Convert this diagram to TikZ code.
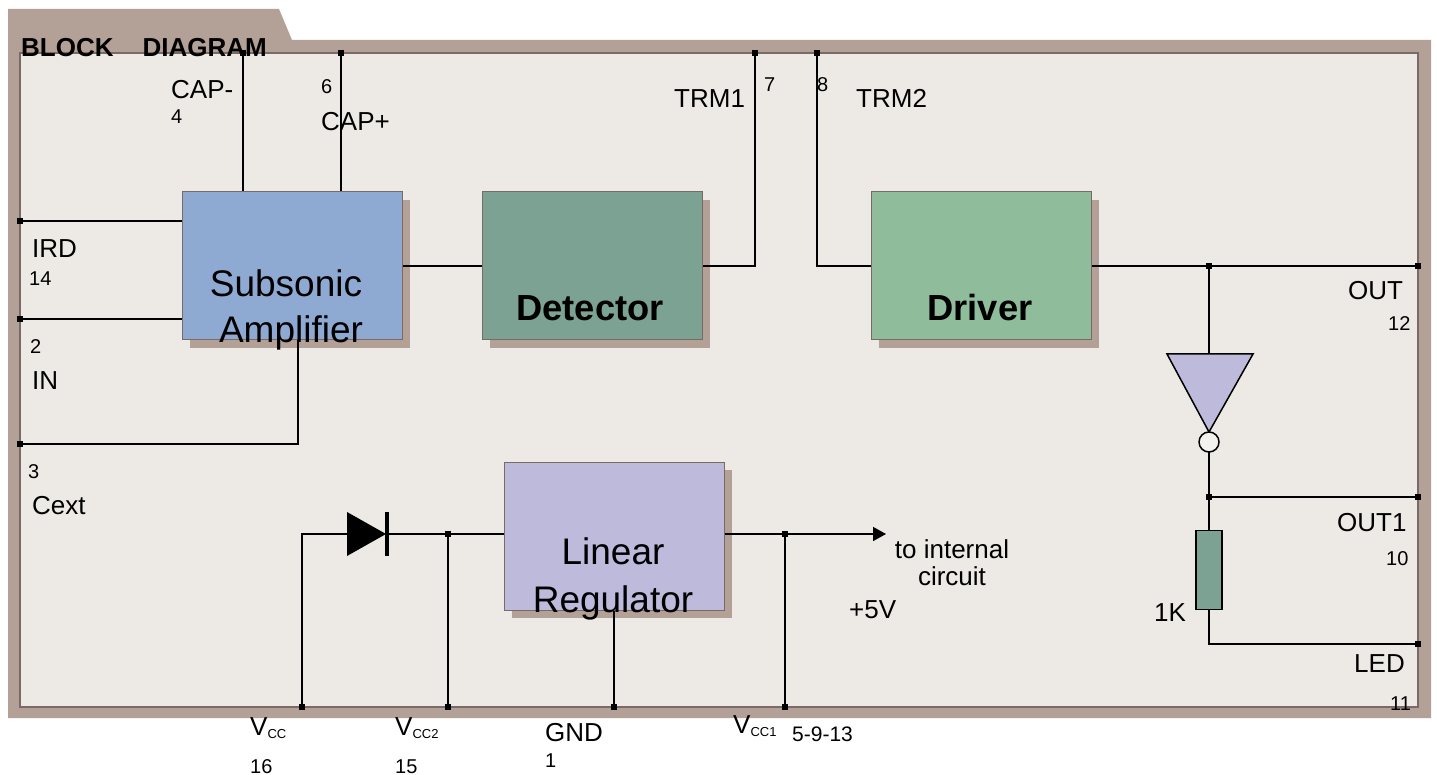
\documentclass[tikz,border=0pt]{standalone}
\usepackage{fontspec}
\setmainfont{Liberation Sans}
\usetikzlibrary{arrows.meta}
\definecolor{paper}{HTML}{EDEAE5}
\definecolor{brownf}{HTML}{B3A097}
\definecolor{edgec}{HTML}{7A6A66}
\definecolor{subc}{HTML}{8EAAD3}
\definecolor{detc}{HTML}{7CA294}
\definecolor{drvc}{HTML}{8FBC9B}
\definecolor{regc}{HTML}{BEBADC}
\newcommand{\fs}[1]{\fontsize{#1}{#1}\selectfont}
\tikzset{
 x=1pt,y=-1pt,
 block/.style={draw=edgec,line width=1pt,minimum width=220pt,inner sep=0pt},
 shadowbox/.style={fill=brownf,draw=none},
 wire/.style={draw=black,line width=1.5pt,line join=miter},
 pin/.style={fill=black,draw=none,minimum size=6pt,inner sep=0pt},
 lab/.style={anchor=base west,inner sep=0pt,font=\fs{26}},
 num/.style={anchor=base west,inner sep=0pt,font=\fs{20}},
 big/.style={anchor=base,inner sep=0pt,font=\fs{37}},
 bigb/.style={anchor=base,inner sep=0pt,font=\fs{36.3}\bfseries},
}
\begin{document}
\begin{tikzpicture}
\useasboundingbox (0,0) rectangle (1437,775);
% frame
\fill[brownf] (8,9) -- (279,9) -- (292,40) -- (1431,40) -- (1431,718) -- (8,718) -- cycle;
\fill[paper,draw=edgec,line width=1.2pt] (20,53) rectangle (1418,707);
% shadows
\fill[shadowbox] (190,200) rectangle (410,348);
\fill[shadowbox] (490,200) rectangle (710,348);
\fill[shadowbox] (879,200) rectangle (1099,348);
\fill[shadowbox] (512,470) rectangle (732,618);
% blocks
\node[block,fill=subc,minimum height=148pt] (sub) at (292,266) {};
\node[block,fill=detc,minimum height=148pt] (det) at (592,266) {};
\node[block,fill=drvc,minimum height=148pt] (drv) at (981,266) {};
\node[block,fill=regc,minimum height=148pt] (reg) at (614,536) {};
% pins
\node[pin] (pcapm) at (243,53) {};
\node[pin] (pcapp) at (341,53) {};
\node[pin] (ptrm1) at (755,53) {};
\node[pin] (ptrm2) at (817,53) {};
\node[pin] (pird) at (20,221) {};
\node[pin] (pin2) at (20,319) {};
\node[pin] (pcext) at (20,444) {};
\node[pin] (pout) at (1418,266) {};
\node[pin] (pout1) at (1418,497) {};
\node[pin] (pled) at (1418,644) {};
\node[pin] (pvcc) at (302,707) {};
\node[pin] (pvcc2) at (448,707) {};
\node[pin] (pgnd) at (614,707) {};
\node[pin] (pvcc1) at (785,707) {};
% junctions
\node[pin] (jout) at (1209,266) {};
\node[pin] (jout1) at (1209,497) {};
\node[pin] (jvcc2) at (448,534) {};
\node[pin] (jvcc1) at (785,534) {};
\coordinate (tipa) at (886,534);
\coordinate (invc) at (1209,354);
\coordinate (dbar) at (387,534);
\coordinate (da) at (347,534);
% wires
\draw[wire] (pcapm) -- (pcapm |- sub.north);
\draw[wire] (pcapp) -- (pcapp |- sub.north);
\draw[wire] (pird) -- (pird -| sub.west);
\draw[wire] (pin2) -- (pin2 -| sub.west);
\draw[wire] (pcext) -- (298,444) -- (298,340);
\draw[wire] (sub.east) -- (det.west);
\draw[wire] (det.east) -- (ptrm1 |- det.east) -- (ptrm1);
\draw[wire] (ptrm2) -- (ptrm2 |- drv.west) -- (drv.west);
\draw[wire] (drv.east) -- (pout);
\draw[wire] (jout) -- (invc);
\draw[wire] (1209,452) -- (jout1);
\draw[wire] (jout1) -- (pout1);
\draw[wire] (jout1) -- (1209,530);
\draw[wire] (1209,609) -- (1209,644) -- (pled);
\draw[wire] (pvcc) -- (pvcc |- da) -- (da);
\draw[wire] (dbar) -- (reg.west |- dbar);
\draw[wire] (jvcc2) -- (pvcc2);
\draw[wire] (pgnd) -- (pgnd |- reg.south);
\draw[wire] (jvcc1) -- (pvcc1);
\draw[wire,-{Triangle[length=13pt,width=14pt]}] (reg.east |- jvcc1) -- (tipa);
% inverter, resistor, diode
\path[draw=black,line width=1.5pt,fill=regc,line join=miter] (1167,354) -- (1253,354) -- (1209,432) -- cycle;
\node[draw=black,line width=1.5pt,fill=paper!60!white,circle,minimum size=20pt,inner sep=0pt] (bub) at (1209,442) {};
\node[draw=black,line width=1.5pt,fill=detc,minimum width=26pt,minimum height=79pt,inner sep=0pt] (res) at (1209,570) {};
\path[fill=black] (347,512) -- (386,534) -- (347,556) -- cycle;
\draw[line width=3.2pt] (387,512) -- (387,556);
% block text
\node[big] (tsub) at (286,297) {Subsonic};
\node[big] (tamp) at (291,343) {Amplifier};
\node[bigb] (tdet) at (590,321) {Detector};
\node[bigb] (tdrv) at (980,321) {Driver};
\node[big] (tlin) at (613,564) {Linear};
\node[big] (treg) at (613,612) {Regulator};
% labels
\node[anchor=base west,inner sep=0pt,font=\fs{26}\bfseries] (title) at (21,57) {BLOCK\hspace{29pt}DIAGRAM};
\node[lab] (lcapm) at (171,99) {CAP-};
\node[num] (n4) at (171,124) {4};
\node[num] (n6) at (321,94) {6};
\node[lab] (lcapp) at (321,131) {CAP+};
\node[lab] (ltrm1) at (674,108) {TRM1};
\node[num] (n7) at (764,92) {7};
\node[num] (n8) at (817,92) {8};
\node[lab] (ltrm2) at (856,108) {TRM2};
\node[lab] (lird) at (32,258) {IRD};
\node[num] (n14) at (29,286) {14};
\node[num] (n2) at (30,353) {2};
\node[lab] (lin) at (32,389) {IN};
\node[num] (n3) at (28,478) {3};
\node[lab] (lcext) at (32,514) {Cext};
\node[lab] (lout) at (1348,300) {OUT};
\node[num] (n12) at (1388,331) {12};
\node[lab] (lout1) at (1337,531) {OUT1};
\node[num] (n10) at (1386,565) {10};
\node[lab] (l1k) at (1154,621) {1K};
\node[lab] (lled) at (1354,672) {LED};
\node[num] (n11) at (1390,710) {11};
\node[anchor=base,inner sep=0pt,align=center,font=\fontsize{26}{27}\selectfont] (lint) at (952,585) {to internal\\circuit};
\node[lab] (l5v) at (849,618) {+5V};
\node[lab] (lvcc) at (250,735) {V\raisebox{-3pt}{\fs{13}CC}};
\node[num] (n16) at (250,773) {16};
\node[lab] (lvcc2) at (395,735) {V\raisebox{-3pt}{\fs{13}CC2}};
\node[num] (n15) at (395,773) {15};
\node[lab] (lgnd) at (545,741) {GND};
\node[num] (n1) at (545,767) {1};
\node[lab] (lvcc1) at (733,733) {V\raisebox{-3pt}{\fs{13}CC1}};
\node[anchor=base west,inner sep=0pt,font=\fs{21}] (n5) at (792,741) {5-9-13};
\end{tikzpicture}
\end{document}
